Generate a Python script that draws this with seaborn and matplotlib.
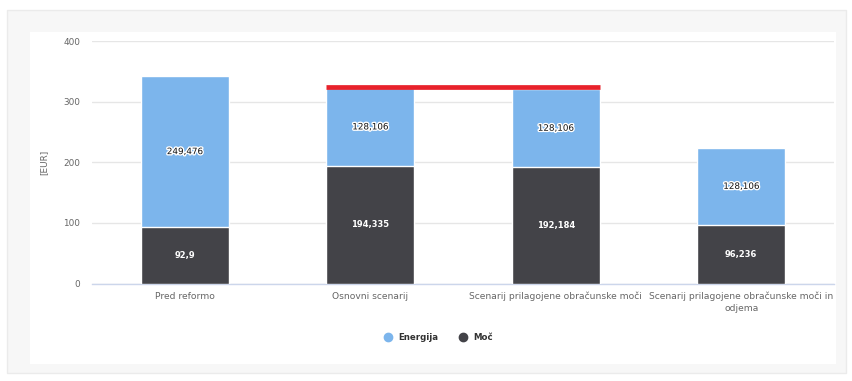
import matplotlib
matplotlib.use("Agg")
import matplotlib.pyplot as plt
import matplotlib.patheffects as pe
from matplotlib.patches import Rectangle
from matplotlib.lines import Line2D
import seaborn as sns
import pandas as pd

# --- data -------------------------------------------------------------
categories = [
    "Pred reformo",
    "Osnovni scenarij",
    "Scenarij prilagojene obračunske moči",
    "Scenarij prilagojene obračunske moči in\nodjema",
]
energija = [249.476, 128.106, 128.106, 128.106]
moc = [92.9, 194.335, 192.184, 96.236]
series_names = ["Energija", "Moč"]
limit_value = 324.5          # red reference line over the two scenarios
limit_categories = [1, 2]    # first and last category index it spans
y_ticks = [0, 100, 200, 300, 400]

# --- style ------------------------------------------------------------
BLUE = "#7cb5ec"
DARK = "#434348"
RED = "#e8222b"
GRID = "#e6e6e6"
AXIS = "#ccd6eb"
TEXT = "#666666"
BAR_W = 0.477

sns.set_theme(style="white")
plt.rcParams["font.family"] = ["DejaVu Sans"]

W, H = 853, 381
fig = plt.figure(figsize=(W / 100, H / 100), dpi=100)
fig.patch.set_facecolor("white")

# framed card behind the chart
fig.patches.append(Rectangle((7 / W, 1 - 373 / H), 839 / W, 363 / H,
                             transform=fig.transFigure, facecolor="#f7f7f7",
                             edgecolor="#ebebeb", linewidth=1, zorder=-10))
fig.patches.append(Rectangle((30 / W, 1 - 364 / H), 806 / W, 332 / H,
                             transform=fig.transFigure, facecolor="white",
                             edgecolor="none", zorder=-9))

ax = fig.add_axes([92 / W, (H - 283.5) / H, 742 / W, 242.4 / H])
ax.set_facecolor("none")
ax.set_zorder(1)

df = pd.DataFrame({"kategorija": categories, "energija": energija, "moc": moc})
df["skupaj"] = df["energija"] + df["moc"]

# stacked bars: full total in blue, power share drawn over it
sns.barplot(data=df, x="kategorija", y="skupaj", color=BLUE, saturation=1,
            width=BAR_W, edgecolor="white", linewidth=1, ax=ax, zorder=3)
sns.barplot(data=df, x="kategorija", y="moc", color=DARK, saturation=1,
            width=BAR_W, edgecolor="white", linewidth=1, ax=ax, zorder=4)

# red line spanning the two scenario bars
x0 = limit_categories[0] - BAR_W / 2
x1 = limit_categories[1] + BAR_W / 2
ax.plot([x0, x1], [limit_value, limit_value], color=RED, linewidth=3.4,
        solid_capstyle="butt", zorder=6)


def fmt(v):
    return f"{v:g}".replace(".", ",")


halo = [pe.withStroke(linewidth=2, foreground="white")]
for i, (e, m) in enumerate(zip(energija, moc)):
    ax.text(i, m + e / 2, fmt(e), ha="center", va="center", fontsize=6.3,
            color="#111111", path_effects=halo, zorder=7)
    ax.text(i, m / 2, fmt(m), ha="center", va="center", fontsize=6.0,
            fontweight="bold", color="white", zorder=7)

# axes
ax.set_xlim(-0.5, len(categories) - 0.5)
ax.set_ylim(0, 400)
ax.set_yticks(y_ticks)
ax.yaxis.grid(True, color=GRID, linewidth=1)
ax.set_axisbelow(True)
ax.tick_params(axis="y", length=0, pad=8.5, labelsize=6.4, labelcolor=TEXT)
ax.tick_params(axis="x", which="major", length=0, pad=6, labelsize=6.6,
               labelcolor=TEXT)
ax.set_xticks([i - 0.5 for i in range(len(categories) + 1)], minor=True)
ax.tick_params(axis="x", which="minor", length=6, width=1, color=AXIS)
for lab in ax.get_xticklabels():
    lab.set_linespacing(1.4)

for s in ["top", "right", "left"]:
    ax.spines[s].set_visible(False)
ax.spines["bottom"].set_color(AXIS)
ax.spines["bottom"].set_linewidth(1)

ax.set_xlabel("")
ax.set_ylabel("[EUR]", fontsize=6.4, color=TEXT, labelpad=11)

# legend
handles = [
    Line2D([], [], marker="o", linestyle="none", markersize=6,
           markerfacecolor=BLUE, markeredgecolor=BLUE),
    Line2D([], [], marker="o", linestyle="none", markersize=6,
           markerfacecolor=DARK, markeredgecolor=DARK),
]
fig.legend(handles, series_names, loc="center", ncol=2, frameon=False,
           bbox_to_anchor=(438 / W, 1 - 338 / H),
           labelcolor="#333333", handletextpad=0.55, columnspacing=2.3,
           handlelength=1.2, prop={"weight": "bold", "size": 6.2})

fig.savefig("out.png", dpi=100, facecolor=fig.get_facecolor())
